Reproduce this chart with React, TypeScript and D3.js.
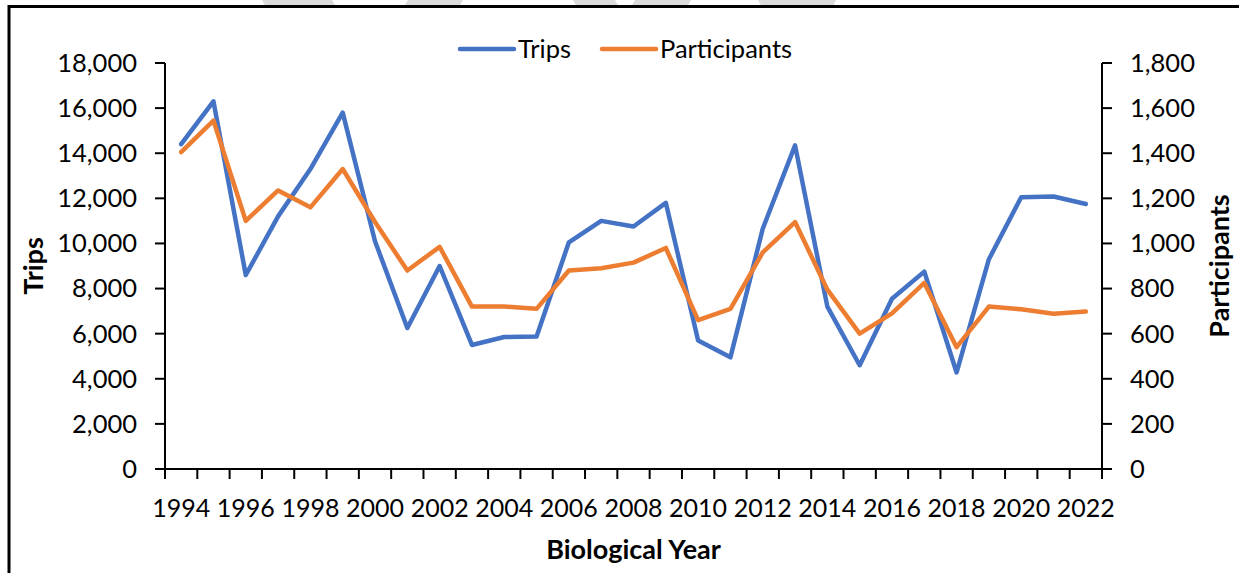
import React, { useRef, useEffect } from 'react';
import * as d3 from 'd3';

const years = [
  1994, 1995, 1996, 1997, 1998, 1999, 2000, 2001, 2002, 2003,
  2004, 2005, 2006, 2007, 2008, 2009, 2010, 2011, 2012, 2013,
  2014, 2015, 2016, 2017, 2018, 2019, 2020, 2021, 2022,
];

const trips = [
  14400, 16300, 8600, 11200, 13300, 15800, 10100, 6250, 9000, 5500,
  5850, 5870, 10050, 11000, 10750, 11800, 5700, 4950, 10650, 14350,
  7200, 4600, 7550, 8750, 4280, 9300, 12050, 12080, 11750,
];

const participants = [
  1405, 1545, 1100, 1235, 1160, 1330, 1095, 880, 985, 720,
  720, 710, 880, 890, 915, 980, 660, 710, 960, 1095,
  795, 600, 690, 825, 540, 720, 708, 688, 698,
];

const tripTicks = [0, 2000, 4000, 6000, 8000, 10000, 12000, 14000, 16000, 18000];
const participantTicks = [0, 200, 400, 600, 800, 1000, 1200, 1400, 1600, 1800];

const BLUE = '#4472C4';
const ORANGE = '#ED7D31';
const FONT = 'Lato, "Open Sans", sans-serif';

const W = 1239;
const H = 573;

const App: React.FC = () => {
  const svgRef = useRef<SVGSVGElement>(null);

  useEffect(() => {
    if (!svgRef.current) return;
    const svg = d3.select(svgRef.current);
    svg.selectAll('*').remove();

    const plot = { left: 165, right: 1102, top: 63, bottom: 469 };

    svg.append('rect').attr('width', W).attr('height', H).attr('fill', '#fff');

    // faint watermark stripes cut off at the top edge
    const stripes: [number, number, number][] = [
      [262, 332, 4], [408, 463, -4], [573, 615, 4], [635, 691, -4], [758, 832, 4], [818, 836, -4],
    ];
    svg.selectAll('.stripe')
      .data(stripes)
      .enter()
      .append('polygon')
      .attr('class', 'stripe')
      .attr('points', d => `${d[0]},0 ${d[1]},0 ${d[1] + d[2]},7 ${d[0] + d[2]},7`)
      .attr('fill', '#dcdcdc');

    // frame (left + top)
    svg.append('path')
      .attr('d', `M9,${H} L9,6.5 L${W},6.5`)
      .attr('fill', 'none')
      .attr('stroke', '#000')
      .attr('stroke-width', 3);

    const x = d3.scaleBand<number>()
      .domain(years)
      .range([plot.left, plot.right])
      .padding(0);
    const cx = (d: number) => (x(d) as number) + x.bandwidth() / 2;

    const yL = d3.scaleLinear().domain([0, 18000]).range([plot.bottom, plot.top]);
    const yR = d3.scaleLinear().domain([0, 1800]).range([plot.bottom, plot.top]);
    const fmt = d3.format(',');

    const g = svg.append('g');

    // left axis
    g.append('line')
      .attr('x1', plot.left).attr('x2', plot.left)
      .attr('y1', plot.top).attr('y2', plot.bottom)
      .attr('stroke', '#000').attr('stroke-width', 2);
    g.selectAll('.ltick')
      .data(tripTicks)
      .enter()
      .append('line')
      .attr('x1', plot.left - 10).attr('x2', plot.left)
      .attr('y1', d => yL(d)).attr('y2', d => yL(d))
      .attr('stroke', '#000').attr('stroke-width', 2);
    g.selectAll('.llabel')
      .data(tripTicks)
      .enter()
      .append('text')
      .attr('x', 137)
      .attr('y', d => yL(d))
      .attr('dy', '0.35em')
      .attr('text-anchor', 'end')
      .attr('font-family', FONT)
      .attr('font-size', 25.5)
      .attr('fill', '#000')
      .text(d => fmt(d));

    // right axis
    g.append('line')
      .attr('x1', plot.right).attr('x2', plot.right)
      .attr('y1', plot.top).attr('y2', plot.bottom)
      .attr('stroke', '#000').attr('stroke-width', 2);
    g.selectAll('.rtick')
      .data(participantTicks)
      .enter()
      .append('line')
      .attr('x1', plot.right).attr('x2', plot.right + 10)
      .attr('y1', d => yR(d)).attr('y2', d => yR(d))
      .attr('stroke', '#000').attr('stroke-width', 2);
    g.selectAll('.rlabel')
      .data(participantTicks)
      .enter()
      .append('text')
      .attr('x', 1130)
      .attr('y', d => yR(d))
      .attr('dy', '0.35em')
      .attr('text-anchor', 'start')
      .attr('font-family', FONT)
      .attr('font-size', 25.5)
      .attr('fill', '#000')
      .text(d => fmt(d));

    // x axis, ticks between categories
    g.append('line')
      .attr('x1', plot.left - 10).attr('x2', plot.right + 10)
      .attr('y1', plot.bottom).attr('y2', plot.bottom)
      .attr('stroke', '#000').attr('stroke-width', 2);
    const bounds = years.map(d => x(d) as number).concat([plot.right]);
    g.selectAll('.xtick')
      .data(bounds)
      .enter()
      .append('line')
      .attr('x1', d => d).attr('x2', d => d)
      .attr('y1', plot.bottom).attr('y2', plot.bottom + 10)
      .attr('stroke', '#000').attr('stroke-width', 2);
    g.selectAll('.xlabel')
      .data(years.filter((_, i) => i % 2 === 0))
      .enter()
      .append('text')
      .attr('x', d => cx(d))
      .attr('y', 508)
      .attr('dy', '0.35em')
      .attr('text-anchor', 'middle')
      .attr('font-family', FONT)
      .attr('font-size', 25)
      .attr('fill', '#000')
      .text(d => String(d));

    // series
    const tripLine = d3.line<number>()
      .x((_, i) => cx(years[i]))
      .y(d => yL(d));
    const partLine = d3.line<number>()
      .x((_, i) => cx(years[i]))
      .y(d => yR(d));

    g.append('path')
      .attr('d', tripLine(trips))
      .attr('fill', 'none')
      .attr('stroke', BLUE)
      .attr('stroke-width', 4.5)
      .attr('stroke-linejoin', 'round')
      .attr('stroke-linecap', 'round');
    g.append('path')
      .attr('d', partLine(participants))
      .attr('fill', 'none')
      .attr('stroke', ORANGE)
      .attr('stroke-width', 4.5)
      .attr('stroke-linejoin', 'round')
      .attr('stroke-linecap', 'round');

    // axis titles
    svg.append('text')
      .attr('x', (plot.left + plot.right) / 2)
      .attr('y', 550)
      .attr('dy', '0.35em')
      .attr('text-anchor', 'middle')
      .attr('font-family', FONT)
      .attr('font-weight', 'bold')
      .attr('font-size', 27)
      .attr('fill', '#000')
      .text('Biological Year');

    svg.append('text')
      .attr('transform', `translate(34,${(plot.top + plot.bottom) / 2}) rotate(-90)`)
      .attr('dy', '0.35em')
      .attr('text-anchor', 'middle')
      .attr('font-family', FONT)
      .attr('font-weight', 'bold')
      .attr('font-size', 27)
      .attr('fill', '#000')
      .text('Trips');

    svg.append('text')
      .attr('transform', `translate(1220,${(plot.top + plot.bottom) / 2}) rotate(-90)`)
      .attr('dy', '0.35em')
      .attr('text-anchor', 'middle')
      .attr('font-family', FONT)
      .attr('font-weight', 'bold')
      .attr('font-size', 27)
      .attr('fill', '#000')
      .text('Participants');

    // legend
    const legendData = [
      { label: 'Trips', color: BLUE, x: 460 },
      { label: 'Participants', color: ORANGE, x: 602 },
    ];
    const items = svg.selectAll('.legend-item')
      .data(legendData)
      .enter()
      .append('g')
      .attr('class', 'legend-item')
      .attr('transform', d => `translate(${d.x},49)`);
    items.append('line')
      .attr('x1', 0).attr('x2', 54)
      .attr('stroke', d => d.color)
      .attr('stroke-width', 4.5)
      .attr('stroke-linecap', 'round');
    items.append('text')
      .attr('x', 58)
      .attr('dy', '0.35em')
      .attr('font-family', FONT)
      .attr('font-size', 25.5)
      .attr('fill', '#000')
      .text(d => d.label);
  }, []);

  return (
    <svg
      ref={svgRef}
      width={W}
      height={H}
      style={{ position: 'fixed', left: 0, top: 0, display: 'block' }}
    />
  );
};

export default App;
